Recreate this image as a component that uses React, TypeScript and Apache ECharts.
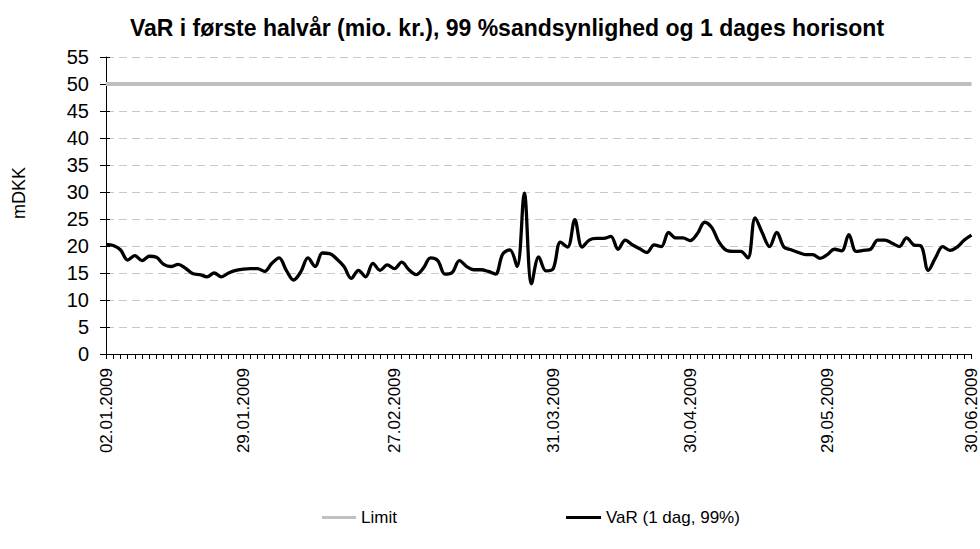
import React, { useEffect, useRef } from "react";
import * as echarts from "echarts";

// Trading days per month (first half of 2009)
const janDays = ["02","05","06","07","08","09","12","13","14","15","16","19","20","21","22","23","26","27","28","29","30"];
const febDays = ["02","03","04","05","06","09","10","11","12","13","16","17","18","19","20","23","24","25","26","27"];
const marDays = ["02","03","04","05","06","09","10","11","12","13","16","17","18","19","20","23","24","25","26","27","30","31"];
const aprDays = ["01","02","03","06","07","08","14","15","16","17","20","21","22","23","24","27","28","29","30"];
const mayDays = ["01","04","05","06","07","11","12","13","14","15","18","19","20","22","25","26","27","28","29"];
const junDays = ["02","03","04","08","09","10","11","12","15","16","17","18","19","22","23","24","25","26","29","30"];

const shownLabels = ["02.01.2009","29.01.2009","27.02.2009","31.03.2009","30.04.2009","29.05.2009","30.06.2009"];

const varValues = [
  20.3, 20.1, 19.3, 17.4, 18.2, 17.3, 18.1, 17.9, 16.6, 16.2,
  16.6, 15.9, 14.9, 14.7, 14.3, 15.0, 14.3, 15.0, 15.5, 15.7,
  15.8, 15.8, 15.3, 16.8, 17.8, 15.5, 13.7, 15.2, 17.8, 16.2,
  18.7, 18.6, 17.6, 16.2, 14.0, 15.5, 14.3, 16.8, 15.5, 16.5,
  15.8, 17.0, 15.6, 14.7, 15.9, 17.8, 17.3, 14.8, 15.1, 17.3,
  16.2, 15.6, 15.6, 15.3, 14.8, 18.5, 19.3, 16.2, 29.8, 13.0,
  18.0, 15.4, 15.8, 20.7, 19.8, 24.9, 19.8, 21.1, 21.4, 21.4,
  21.8, 19.4, 21.1, 20.2, 19.5, 18.8, 20.2, 19.9, 22.5, 21.5,
  21.5, 21.0, 22.3, 24.4, 23.4, 20.7, 19.2, 19.0, 19.0, 17.8,
  25.2, 22.4, 19.9, 22.5, 19.8, 19.3, 18.8, 18.4, 18.4, 17.7,
  18.4, 19.4, 19.1, 22.1, 19.0, 19.2, 19.4, 21.1, 21.1, 20.5,
  19.9, 21.5, 20.2, 20.0, 15.5, 17.8, 19.9, 19.2, 19.8, 21.1,
  22.0,
];

const LIMIT = 50;
const yTicks = { min: 0, max: 55, interval: 5 };

const titleText = "VaR i første halvår (mio. kr.), 99 %sandsynlighed og 1 dages horisont";
const limitName = "Limit";
const varName = "VaR (1 dag, 99%)";
const yName = "mDKK";

const months: [string, string[]][] = [
  ["01", janDays], ["02", febDays], ["03", marDays],
  ["04", aprDays], ["05", mayDays], ["06", junDays],
];
const dates: string[] = [];
months.forEach(([m, days]) => days.forEach((d) => dates.push(`${d}.${m}.2009`)));

const FONT = "Arial, 'Liberation Sans', sans-serif";

export default function App() {
  const ref = useRef<HTMLDivElement>(null);
  useEffect(() => {
    document.body.style.margin = "0";
    if (!ref.current) return;
    const chart = echarts.init(ref.current, undefined, { renderer: "svg" });
    chart.setOption({
      animation: false,
      backgroundColor: "#ffffff",
      textStyle: { fontFamily: FONT, color: "#000" },
      title: {
        text: titleText,
        left: 502,
        textAlign: "center",
        top: 11,
        textStyle: { fontFamily: FONT, fontSize: 23, fontWeight: "bold", color: "#000" },
      },
      legend: [
        {
          data: [limitName],
          left: 317,
          top: 504,
          icon: "rect",
          itemWidth: 34,
          itemHeight: 3,
          itemGap: 4,
          textStyle: { fontFamily: FONT, fontSize: 17, color: "#000" },
        },
        {
          data: [varName],
          left: 561,
          top: 504,
          icon: "rect",
          itemWidth: 35,
          itemHeight: 3,
          textStyle: { fontFamily: FONT, fontSize: 17, color: "#000" },
        },
      ],
      graphic: [
        {
          type: "text",
          x: 19,
          y: 193,
          rotation: Math.PI / 2,
          style: {
            text: yName,
            fontFamily: FONT,
            fontSize: 18,
            fill: "#000",
            align: "center",
            verticalAlign: "middle",
          },
        },
      ],
      grid: { left: 106, right: 8, top: 57, bottom: 195, containLabel: false },
      xAxis: {
        type: "category",
        data: dates,
        boundaryGap: false,
        axisLine: { lineStyle: { color: "#000", width: 1 } },
        axisTick: { show: true, interval: 0, length: 5, lineStyle: { color: "#000" } },
        axisLabel: {
          rotate: 90,
          margin: 14,
          fontSize: 17,
          fontFamily: FONT,
          color: "#000",
          interval: (_i: number, v: string) => shownLabels.includes(v),
        },
        splitLine: { show: false },
      },
      yAxis: [
        {
          type: "value",
          min: yTicks.min,
          max: yTicks.max,
          interval: yTicks.interval,
          axisLine: { show: true, lineStyle: { color: "#000", width: 1 } },
          axisTick: { show: true, length: 6, lineStyle: { color: "#000" } },
          axisLabel: { fontSize: 20, fontFamily: FONT, color: "#000", margin: 17 },
          splitLine: { show: true, lineStyle: { color: "#c8c8c8", type: [8, 5], width: 1 } },
        },
        {
          type: "value",
          position: "left",
          min: yTicks.min,
          max: yTicks.max,
          interval: yTicks.interval,
          axisLine: { show: false },
          axisTick: { show: true, inside: true, length: 4, lineStyle: { color: "#000" } },
          axisLabel: { show: false },
          splitLine: { show: false },
        },
      ],
      series: [
        {
          name: limitName,
          type: "line",
          data: [[dates[0], LIMIT], [dates[dates.length - 1], LIMIT]],
          showSymbol: false,
          symbol: "none",
          lineStyle: { color: "#c0c0c0", width: 4 },
          itemStyle: { color: "#c0c0c0" },
          z: 3,
        },
        {
          name: varName,
          type: "line",
          data: varValues,
          smooth: 0.35,
          showSymbol: false,
          symbol: "none",
          lineStyle: { color: "#000", width: 3.3 },
          itemStyle: { color: "#000" },
          z: 4,
        },
      ],
    });
    return () => chart.dispose();
  }, []);
  return <div ref={ref} style={{ width: 980, height: 549 }} />;
}
